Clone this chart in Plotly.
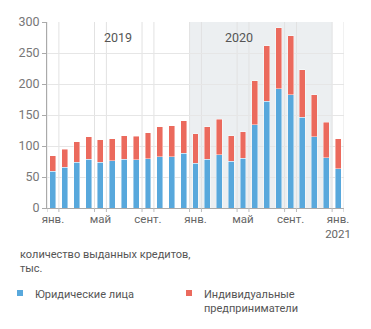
import plotly.graph_objects as go

months = ["2019-01", "2019-02", "2019-03", "2019-04", "2019-05", "2019-06",
          "2019-07", "2019-08", "2019-09", "2019-10", "2019-11", "2019-12",
          "2020-01", "2020-02", "2020-03", "2020-04", "2020-05", "2020-06",
          "2020-07", "2020-08", "2020-09", "2020-10", "2020-11", "2020-12",
          "2021-01"]
legal_entities = [59, 65.5, 73.5, 78.5, 74, 76, 78.5, 77.5, 79.5, 82.5, 83, 88,
                  72.5, 78.5, 86, 75.5, 80, 134, 172, 192, 183, 146, 115, 81, 63.5]
entrepreneurs = [25, 29, 33.5, 36.5, 36, 36, 38, 38.5, 42, 48.5, 50, 53,
                 47.5, 52.5, 57, 41, 43, 71, 90, 99, 95, 77, 68, 57, 48.5]
tick_months = ["2019-01", "2019-05", "2019-09", "2020-01", "2020-05", "2020-09", "2021-01"]
tick_labels = ["янв.", "май", "сент.", "янв.", "май", "сент.", "янв.<br>2021"]
year_labels = ["2019", "2020"]
year_label_pos = [5.5, 15.7]
series_names = ["Юридические лица", "Индивидуальные<br>предприниматели"]
colors = ["#58a8dc", "#eb6a5d"]
y_title = "количество выданных кредитов,<br>тыс."

FONT = "Roboto"
L, R, T, B = 47, 27, 22, 121
W, H = 371, 329
PW, PH = W - L - R, H - T - B


def px_x(p):
    return (p - L) / PW


def px_y(p):
    return (H - B - p) / PH


fig = go.Figure()
for vals, name, col in zip([legal_entities, entrepreneurs], series_names, colors):
    fig.add_trace(go.Bar(x=months, y=vals, name=name, marker_color=col,
                         marker_line=dict(color="rgba(255,255,255,0.55)", width=0.8),
                         showlegend=False))

shapes = []
# 2020 shaded band
i0 = months.index("2020-01")
i1 = months.index("2020-12")
shapes.append(dict(type="rect", xref="x", yref="paper", x0=i0 - 0.5, x1=i1 + 0.5,
                   y0=0, y1=1, fillcolor="#eceff1", line_width=0, layer="below"))
# vertical gridlines and ticks at edges of labeled months
for m in tick_months:
    i = months.index(m)
    for xe in (i - 0.5, i + 0.5):
        shapes.append(dict(type="line", xref="x", yref="paper", x0=xe, x1=xe,
                           y0=0, y1=1, line=dict(color="#e2e2e2", width=1), layer="below"))
        shapes.append(dict(type="line", xref="x", yref="paper", x0=xe, x1=xe,
                           y0=0, y1=-4 / PH, line=dict(color="#bbbbbb", width=1)))

# legend (manual)
leg_items = [(20, 33), (189, 202)]
annotations = []
for (cx, tx), name, col in zip(leg_items, series_names, colors):
    shapes.append(dict(type="rect", xref="paper", yref="paper",
                       x0=px_x(cx - 3), x1=px_x(cx + 3), y0=px_y(296), y1=px_y(290),
                       fillcolor=col, line_width=0))
    annotations.append(dict(xref="paper", yref="paper", x=px_x(tx), y=px_y(286),
                            xanchor="left", yanchor="top", text=name, showarrow=False,
                            align="left", font=dict(family=FONT, size=11, color="#555")))

annotations.append(dict(xref="paper", yref="paper", x=px_x(18), y=px_y(246),
                        xanchor="left", yanchor="top", text=y_title, showarrow=False,
                        align="left", font=dict(family=FONT, size=11, color="#555")))
# year labels
for yl, xp in zip(year_labels, year_label_pos):
    annotations.append(dict(xref="x", yref="paper", x=xp, y=px_y(37), yanchor="middle",
                            text=yl, showarrow=False,
                            font=dict(family=FONT, size=12.5, color="#555")))

fig.update_layout(
    width=W, height=H, margin=dict(l=L, r=R, t=T, b=B),
    barmode="stack", bargap=0.5,
    plot_bgcolor="white", paper_bgcolor="white",
    font=dict(family=FONT, size=11, color="#666"),
    shapes=shapes, annotations=annotations,
    xaxis=dict(type="category", categoryorder="array", categoryarray=months,
               range=[-0.5, len(months) - 0.5], tickmode="array",
               tickvals=tick_months, ticktext=tick_labels, showgrid=False,
               showline=True, linecolor="#aaaaaa", ticks="", ticklen=0,
               tickfont=dict(family=FONT, size=11.5, color="#666")),
    yaxis=dict(range=[0, 300], dtick=50, showgrid=True, gridcolor="#e6e6e6",
               showline=True, linecolor="#aaaaaa", ticks="outside", ticklen=4,
               tickcolor="#aaaaaa", zeroline=False,
               tickfont=dict(family=FONT, size=12.5, color="#777")),
)

fig.write_html("out.html")
